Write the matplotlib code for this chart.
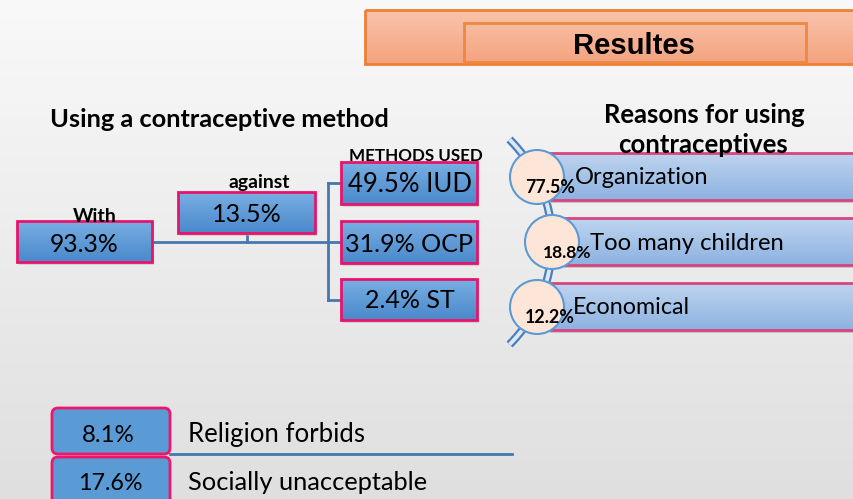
import numpy as np
import matplotlib
matplotlib.use("Agg")
import matplotlib.pyplot as plt
from matplotlib.patches import Rectangle, Circle, FancyBboxPatch
from matplotlib.colors import LinearSegmentedColormap
from matplotlib.textpath import TextPath
from matplotlib.font_manager import FontProperties

# ---------------- data ----------------
title = "Resultes"
left_title = "Using a contraceptive method"
main_labels = ["With", "against"]
main_values = [93.3, 13.5]
methods_title = "METHODS USED"
method_names = ["IUD", "OCP", "ST"]
method_values = [49.5, 31.9, 2.4]
reasons_title = ["Reasons for using", "contraceptives"]
reason_names = ["Organization", "Too many children", "Economical"]
reason_values = [77.5, 18.8, 12.2]
barrier_names = ["Religion forbids", "Socially unacceptable"]
barrier_values = [8.1, 17.6]

# ---------------- layout (pixels): (x, baseline y, width, cap height) ----------------
W, H = 854, 499
main_boxes = [(17, 221, 152, 262), (178, 192, 315, 233)]
main_label_pos = [(95, 222, 44, 12.7), (259, 188, 62, 12.7)]
main_val_pos = [(84, 252, 69, 20), (247, 222, 70, 18.3)]
method_boxes = [(341, 162, 477, 204), (341, 221, 477, 263), (341, 279, 477, 320)]
method_txt = [(410, 192, 124, 18), (409, 252, 128, 18), (410, 308, 90, 18)]
reason_bars = [(548, 153, 200), (562, 218, 265), (548, 283, 330)]
reason_circ = [(537, 177), (552, 242), (537, 307)]
reason_txt = [(575, 184, 142, 16), (590, 250, 200, 16.5), (573, 314, 122, 16)]
reason_pct = [(550, 193, 50, 11.5), (567, 258, 49, 11.5), (550, 323, 50, 11.5)]
barrier_boxes = [(52, 408, 170, 454), (52, 457, 170, 515)]
barrier_val = [(108, 442, 53, 18), (110, 490, 65, 18)]
barrier_txt = [(188, 442, 177, 17), (188, 490, 240, 17.5)]

fig = plt.figure(figsize=(W / 100, H / 100), dpi=100)
ax = fig.add_axes([0, 0, 1, 1])
ax.set_axis_off()
renderer = fig.canvas.get_renderer()

SANS = ["Lato", "DejaVu Sans"]


def grad(x0, y0, x1, y1, ctop, cbot, z):
    g = np.linspace(0, 1, 64)[:, None]
    cm = LinearSegmentedColormap.from_list("g", [ctop, cbot])
    ax.imshow(g, extent=(x0, x1, y1, y0), cmap=cm, aspect="auto",
              zorder=z, interpolation="bilinear")


def box(x0, y0, x1, y1, ctop, cbot, ec, lw=2, z=3, shadow=True):
    if shadow:
        ax.add_patch(Rectangle((x0 + 2, y0 + 3), x1 - x0, y1 - y0,
                               fc="#b8b8b8", ec="none", alpha=0.5, zorder=z - 0.2))
    grad(x0, y0, x1, y1, ctop, cbot, z)
    ax.add_patch(Rectangle((x0, y0), x1 - x0, y1 - y0, fill=False,
                           ec=ec, lw=lw, zorder=z + 0.1))


def fit_text(x, y, s, width, cap=None, ha="center", weight="normal", family=SANS,
             z=6, base=14, wmix=1.0):
    t = ax.text(x, y, s, ha=ha, va="baseline", fontsize=base,
                fontweight=weight, family=family, color="black", zorder=z)
    w = t.get_window_extent(renderer=renderer).width
    size_w = base * width / w
    if cap is not None and wmix < 1:
        fp = FontProperties(family=family, weight=weight)
        ratio = TextPath((0, 0), "H", size=1, prop=fp).get_extents().height
        size_h = cap / ratio * 72 / 100
        size = wmix * size_w + (1 - wmix) * size_h
    else:
        size = size_w
    t.set_fontsize(size)
    return t


# background
bg = np.linspace(0, 1, 256)[:, None]
ax.imshow(bg, extent=(0, W, H, 0), aspect="auto", zorder=0,
          cmap=LinearSegmentedColormap.from_list("bg", ["#f9f9f9", "#dfdfdf"]))

# banner
grad(365, 10, W + 5, 64, "#f9c4ac", "#f4a37e", 1)
ax.add_patch(Rectangle((365, 10), W + 5 - 365, 54, fill=False, ec="#ee7f36", lw=2, zorder=1.2))
ax.add_patch(Rectangle((464, 23), 806 - 464, 39, fill=False, ec="#ee8742", lw=2, zorder=1.3))
fit_text(634, 54, title, 122, weight="bold", family=["Liberation Sans", "DejaVu Sans"])

# left section
fit_text(219.5, 127, left_title, 341, 17, weight="bold")
LINE = "#4677ae"
ax.plot([152, 328], [242, 242], color=LINE, lw=2, zorder=2)
ax.plot([247, 247], [233, 242], color=LINE, lw=2, zorder=2)
ax.plot([328, 328], [183, 300], color=LINE, lw=2, zorder=2)
for yy in [183, 242, 300]:
    ax.plot([328, 341], [yy, yy], color=LINE, lw=2, zorder=2)

BT, BB, PINK = "#78aee3", "#4a89cb", "#e8136b"
for (x0, y0, x1, y1), lab, val, lp, vp in zip(main_boxes, main_labels, main_values,
                                              main_label_pos, main_val_pos):
    box(x0, y0, x1, y1, BT, BB, PINK)
    fit_text(vp[0], vp[1], f"{val}%", vp[2], vp[3])
    fit_text(lp[0], lp[1], lab, lp[2], lp[3], weight="bold", z=7)

fit_text(416, 161, methods_title, 135, 11, weight="bold", z=7)
for (x0, y0, x1, y1), nm, val, tp in zip(method_boxes, method_names, method_values, method_txt):
    box(x0, y0, x1, y1, BT, BB, PINK)
    fit_text(tp[0], tp[1], f"{val}% {nm}", tp[2], tp[3])

# right section
fit_text(704, 123, reasons_title[0], 202, 15, weight="bold", z=8)
fit_text(703, 153, reasons_title[1], 170, 15, weight="bold", z=8)

# arc (double line)
cx, cy, R = 407, 242, 145
th = np.linspace(np.radians(-45), np.radians(45), 200)
ax.plot(cx + R * np.cos(th), cy + R * np.sin(th), color="#4a7ebb", lw=6,
        solid_capstyle="butt", zorder=2)
ax.plot(cx + R * np.cos(th), cy + R * np.sin(th), color="#dde8f4", lw=2.8,
        solid_capstyle="butt", zorder=2.1)

for (x0, y0, y1), (ccx, ccy), nm, val, tp, pp in zip(reason_bars, reason_circ, reason_names,
                                                    reason_values, reason_txt, reason_pct):
    ax.add_patch(Rectangle((x0 + 2, y1), W, 3, fc="#c4c4c4", ec="none", zorder=2.5))
    grad(x0, y0, W + 5, y1, "#bed4ef", "#8db2e1", 3)
    ax.plot([x0, W + 5], [y0, y0], color="#d8447f", lw=2, zorder=3.2)
    ax.plot([x0, W + 5], [y1, y1], color="#d8447f", lw=2, zorder=3.2)
    ax.add_patch(Circle((ccx, ccy), 27, fc="#fde6d8", ec="#5b9bd5", lw=1.5, zorder=4))
    fit_text(tp[0], tp[1], nm, tp[2], tp[3], ha="left", wmix=0.5)
    fit_text(pp[0], pp[1], f"{val}%", pp[2], pp[3], weight="bold", z=7)

# bottom section
ax.plot([170, 512], [454, 454], color=LINE, lw=2, zorder=2)
for (x0, y0, x1, y1), nm, val, vp, tp in zip(barrier_boxes, barrier_names, barrier_values,
                                            barrier_val, barrier_txt):
    ax.add_patch(FancyBboxPatch((x0, y0), x1 - x0, y1 - y0,
                                boxstyle="round,pad=0,rounding_size=6",
                                fc="#5b9bd5", ec="#f0146c", lw=2, zorder=3))
    fit_text(vp[0], vp[1], f"{val}%", vp[2], vp[3])
    fit_text(tp[0], tp[1], nm, tp[2], tp[3], ha="left")

ax.set_xlim(0, W)
ax.set_ylim(H, 0)
fig.savefig("out.png", dpi=100)
